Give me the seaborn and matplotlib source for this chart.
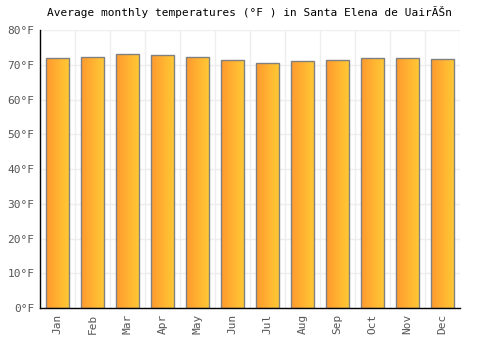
import matplotlib as mpl
import matplotlib.pyplot as plt
import numpy as np
import pandas as pd
import seaborn as sns
from matplotlib.colors import LinearSegmentedColormap

MONTHS = ["Jan", "Feb", "Mar", "Apr", "May", "Jun",
          "Jul", "Aug", "Sep", "Oct", "Nov", "Dec"]
TEMPS_F = [71.9, 72.4, 73.0, 72.7, 72.4, 71.3, 70.4, 71.0, 71.3, 72.1, 72.1, 71.6]
Y_TICKS = [0, 10, 20, 30, 40, 50, 60, 70, 80]

sns.set_style("white")
mpl.rcParams.update({
    "font.family": ["DejaVu Sans Mono", "DejaVu Sans"],
    "font.size": 8,
})

df = pd.DataFrame({"month": MONTHS, "temp": TEMPS_F})

fig = plt.figure(figsize=(5, 3.5), dpi=100)
ax = fig.add_axes([0.08, 0.12, 0.84, 0.794])

sns.barplot(data=df, x="month", y="temp", color="#FFA833", width=0.67,
            edgecolor="#808080", linewidth=1.0, ax=ax, zorder=2)

# horizontal gradient inside each bar
cmap = LinearSegmentedColormap.from_list("warm", ["#FF9A2E", "#FFCA35"])
grad = np.linspace(0, 1, 64).reshape(1, -1)
for patch in ax.patches:
    x0, y0 = patch.get_x(), patch.get_y()
    w, h = patch.get_width(), patch.get_height()
    im = ax.imshow(grad, cmap=cmap, aspect="auto", extent=[x0, x0 + w, y0, y0 + h],
                   zorder=2.1, interpolation="bilinear")
    im.set_clip_path(patch)
    patch.set_facecolor("none")
    patch.set_edgecolor("#808080")
    patch.set_zorder(2.2)

ax.set_xlim(-0.5, len(MONTHS) - 0.5)
ax.set_ylim(0, 80)
ax.set_yticks(Y_TICKS)
ax.set_yticklabels([f"{t}°F" for t in Y_TICKS])
ax.set_xticks(range(len(MONTHS)))
ax.set_xticklabels(MONTHS, rotation=90)
ax.set_xticks(np.arange(0.5, len(MONTHS) - 0.5 + 1, 1), minor=True)
ax.grid(True, axis="y", color="#EEEEEE", linewidth=1, zorder=0)
ax.grid(True, axis="x", which="minor", color="#EEEEEE", linewidth=1, zorder=0)
ax.grid(False, axis="x", which="major")
ax.set_axisbelow(True)
ax.tick_params(axis="both", which="both", length=0, colors="#555555", labelsize=8, pad=4)

for side in ["top", "right"]:
    ax.spines[side].set_visible(False)
for side in ["left", "bottom"]:
    ax.spines[side].set_color("black")
    ax.spines[side].set_linewidth(1)

ax.set_xlabel("")
ax.set_ylabel("")
ax.set_title("Average monthly temperatures (°F ) in Santa Elena de UairÃŠn",
             fontsize=8, color="black", pad=10)

fig.savefig("out.png", dpi=100)
